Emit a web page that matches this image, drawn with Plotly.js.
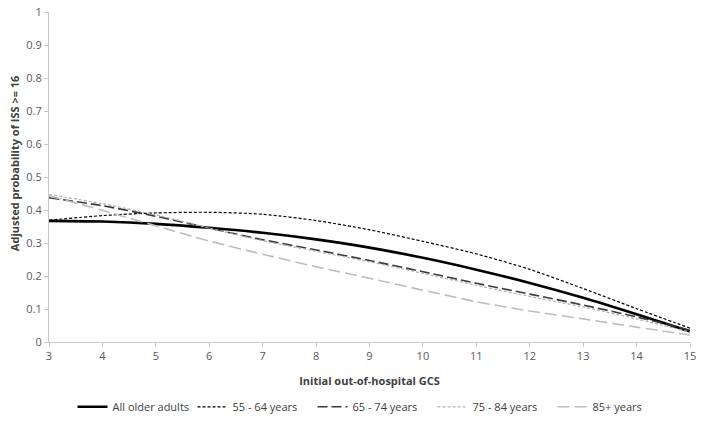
<!DOCTYPE html>
<html>
<head>
<meta charset="utf-8">
<script src="https://cdn.plot.ly/plotly-3.0.1.min.js"></script>
<style>html,body{margin:0;padding:0;background:#fff;}#chart{width:704px;height:422px;}</style>
</head>
<body>
<div id="chart"></div>
<script>
const gcs = [3, 4, 5, 6, 7, 8, 9, 10, 11, 12, 13, 14, 15];
const allOlder = [0.367, 0.365, 0.358, 0.346, 0.331, 0.311, 0.286, 0.255, 0.219, 0.179, 0.134, 0.084, 0.032];
const age55_64 = [0.369, 0.383, 0.391, 0.393, 0.387, 0.368, 0.340, 0.305, 0.267, 0.220, 0.162, 0.101, 0.042];
const age65_74 = [0.437, 0.413, 0.381, 0.345, 0.310, 0.279, 0.247, 0.213, 0.178, 0.145, 0.112, 0.076, 0.036];
const age75_84 = [0.447, 0.419, 0.385, 0.345, 0.307, 0.275, 0.243, 0.208, 0.172, 0.138, 0.106, 0.070, 0.030];
const age85plus = [0.443, 0.399, 0.352, 0.306, 0.266, 0.228, 0.193, 0.157, 0.122, 0.094, 0.070, 0.045, 0.021];
const seriesNames = ["All older adults", "55 - 64 years", "65 - 74 years", "75 - 84 years", "85+ years"];
const yTicks = [0, 0.1, 0.2, 0.3, 0.4, 0.5, 0.6, 0.7, 0.8, 0.9, 1];
const yTickLabels = ["0", "0.1", "0.2", "0.3", "0.4", "0.5", "0.6", "0.7", "0.8", "0.9", "1"];
const yTitle = "Adjusted probability of ISS >= 16";
const xTitle = "Initial out-of-hospital GCS";

const styles = [
  {color: "#000000", width: 2.6, dash: "solid"},
  {color: "#000000", width: 1.2, dash: "3px,2px"},
  {color: "#3a3a3a", width: 1.6, dash: "10px,4px"},
  {color: "#b0b0b0", width: 1.2, dash: "3px,2px"},
  {color: "#bdbdbd", width: 1.6, dash: "12px,5px"}
];
const values = [allOlder, age55_64, age65_74, age75_84, age85plus];
const traces = values.map((v, i) => ({
  x: gcs, y: v, type: "scatter", mode: "lines", name: seriesNames[i],
  line: {color: styles[i].color, width: styles[i].width, dash: styles[i].dash, shape: "spline", smoothing: 0.8}
}));

const font = "Open Sans, Liberation Sans, sans-serif";
const layout = {
  width: 704, height: 422,
  margin: {l: 49, r: 14, t: 12, b: 80},
  paper_bgcolor: "#fff", plot_bgcolor: "#fff",
  font: {family: font, size: 11, color: "#595959"},
  showlegend: true,
  legend: {orientation: "h", x: 0.103, xanchor: "left", xref: "container", y: 0.036, yanchor: "middle", yref: "container",
           font: {family: font, size: 11, color: "#404040"}, traceorder: "normal", itemwidth: 30, entrywidth: 75},
  xaxis: {
    range: [3, 15], tickmode: "array", tickvals: gcs, ticktext: gcs.map(String),
    showgrid: false, zeroline: false, showline: true, linecolor: "#c8c8c8", linewidth: 1,
    ticks: "outside", ticklen: 4, tickcolor: "#c8c8c8",
    tickfont: {family: font, size: 11, color: "#595959"},
    title: {text: "<b>" + xTitle + "</b>", font: {family: font, size: 11, color: "#404040"}, standoff: 15}
  },
  yaxis: {
    range: [0, 1], tickmode: "array", tickvals: yTicks, ticktext: yTickLabels,
    showgrid: false, zeroline: false, showline: true, linecolor: "#c8c8c8", linewidth: 1,
    ticks: "outside", ticklen: 4, tickcolor: "#c8c8c8",
    tickfont: {family: font, size: 11, color: "#595959"},
    title: {text: ""}
  },
  annotations: [{
    text: "<b>" + yTitle + "</b>", textangle: -90, showarrow: false,
    xref: "paper", yref: "paper", x: -0.0546, y: 0.542, xanchor: "center", yanchor: "middle",
    font: {family: font, size: 11, color: "#404040"}
  }]
};
Plotly.newPlot("chart", traces, layout, {displayModeBar: false, staticPlot: true});
</script>
</body>
</html>
